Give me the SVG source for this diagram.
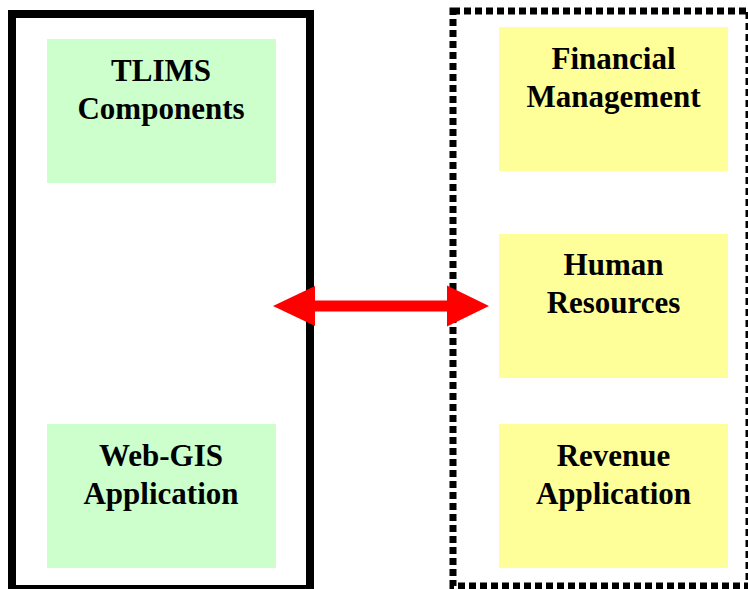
<svg xmlns="http://www.w3.org/2000/svg" width="748" height="589" viewBox="0 0 748 589">
  <style>
    .label { font-family: "Liberation Serif", "Times New Roman", serif; font-weight: bold; font-size: 31px; fill: #000; text-anchor: middle; }
    .green { fill: #CCFFCC; }
    .yellow { fill: #FFFF99; }
    .solid-frame { fill: none; stroke: #000; stroke-width: 8; }
    .dotted-frame { fill: none; stroke: #000; stroke-width: 7; stroke-dasharray: 7 4; }
    .link { fill: #FF0000; }
  </style>
  <rect width="748" height="589" fill="#FFFFFF"/>

  <!-- TLIMS side -->
  <g id="tlims-frame">
    <rect class="solid-frame" x="12" y="14" width="298" height="575"/>
  </g>
  <g id="tlims-components">
    <rect class="green" x="47" y="39" width="229" height="144"/>
    <text class="label" x="161" y="80.5">TLIMS</text>
    <text class="label" x="161" y="118.5">Components</text>
  </g>
  <g id="web-gis">
    <rect class="green" x="47" y="424" width="229" height="144"/>
    <text class="label" x="161" y="465.5">Web-GIS</text>
    <text class="label" x="161" y="503.5">Application</text>
  </g>

  <!-- Enterprise systems side -->
  <g id="enterprise-frame">
    <rect class="dotted-frame" x="453" y="11" width="296" height="575"/>
  </g>
  <g id="financial-management">
    <rect class="yellow" x="499" y="27" width="229" height="144"/>
    <text class="label" x="613.5" y="68.5">Financial</text>
    <text class="label" x="613.5" y="106.5">Management</text>
  </g>
  <g id="human-resources">
    <rect class="yellow" x="499" y="234" width="229" height="144"/>
    <text class="label" x="613.5" y="275">Human</text>
    <text class="label" x="613.5" y="313">Resources</text>
  </g>
  <g id="revenue-application">
    <rect class="yellow" x="499" y="424" width="229" height="144"/>
    <text class="label" x="613.5" y="465.5">Revenue</text>
    <text class="label" x="613.5" y="503.5">Application</text>
  </g>

  <!-- Two-way link between the two sides -->
  <g id="connectors">
    <polygon class="link" points="273,306 315,286 315,300.5 447,300.5 447,285.5 489,306 447,326.5 447,311.5 315,311.5 315,326"/>
  </g>
</svg>
